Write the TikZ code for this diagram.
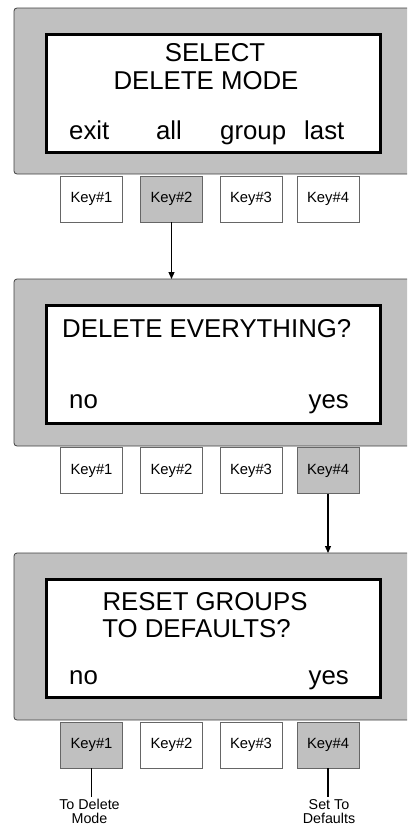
\documentclass[tikz,border=0pt]{standalone}
\usepackage{fontspec}
\setmainfont{Liberation Sans}
\usetikzlibrary{arrows.meta}
\definecolor{panelgray}{HTML}{C0C0C0}
\begin{document}
\begin{tikzpicture}[x=1pt,y=-1pt,
 panel/.style={draw=black!75, fill=panelgray, line width=0.8pt, rounded corners=3pt, anchor=north west, outer sep=0pt, inner sep=0pt, minimum width=420pt, minimum height=166pt},
 screen/.style={draw=black, fill=white, line width=3pt, anchor=north west, outer sep=0pt, inner sep=0pt, minimum width=334pt, minimum height=118pt},
 keybox/.style={draw=black!60, fill=white, line width=0.8pt, minimum width=62pt, minimum height=46pt, inner sep=0pt, outer sep=0pt, text height=10.5pt, text depth=3.5pt, font=\fontsize{14.8}{17}\selectfont},
 keyon/.style={keybox, fill=panelgray},
 big/.style={font=\fontsize{25.8}{30}\selectfont, inner sep=0pt},
 small/.style={font=\fontsize{14.3}{16}\selectfont, inner sep=0pt, anchor=base},
 flow/.style={line width=1.2pt, -{Triangle[width=6pt,length=7pt]}},
 lead/.style={line width=1.3pt}]
\useasboundingbox (0,0) rectangle (407,827);
\clip (0,0) rectangle (407,827);

% ---------- Panel 1 ----------
\node[panel] (p1) at (14,8) {};
\node[screen] (s1) at (46.5,34.5) {};
\node[big, anchor=base] (t1a) at (215,61) {SELECT};
\node[big, anchor=base] (t1b) at (206,89) {DELETE MODE};
\node[big, anchor=base west] (t1c) at (69,139) {exit};
\node[big, anchor=base] (t1d) at (169,139) {all};
\node[big, anchor=base west] (t1e) at (220,139) {group};
\node[big, anchor=base west] (t1f) at (304,139) {last};
\node[keybox] (k11) at (91.5,199) {Key\#1};
\node[keyon]  (k12) at (171.5,199) {Key\#2};
\node[keybox] (k13) at (251,199) {Key\#3};
\node[keybox] (k14) at (328,199) {Key\#4};

% ---------- Panel 2 ----------
\node[panel, minimum height=167pt] (p2) at (14,279) {};
\node[screen] (s2) at (46.5,305.5) {};
\node[big, anchor=base west] (t2a) at (62,337) {DELETE EVERYTHING?};
\node[big, anchor=base west] (t2b) at (69,408) {no};
\node[big, anchor=base east] (t2c) at (349,408) {yes};
\node[keybox] (k21) at (91.5,470.5) {Key\#1};
\node[keybox] (k22) at (171.5,470.5) {Key\#2};
\node[keybox] (k23) at (251,470.5) {Key\#3};
\node[keyon]  (k24) at (328,470.5) {Key\#4};

% ---------- Panel 3 ----------
\node[panel, minimum height=167pt] (p3) at (14,553) {};
\node[screen] (s3) at (46.5,579.5) {};
\node[big, anchor=base] (t3a) at (205,610) {RESET GROUPS};
\node[big, anchor=base] (t3b) at (196.5,637) {TO DEFAULTS?};
\node[big, anchor=base west] (t3c) at (69,684) {no};
\node[big, anchor=base east] (t3d) at (349,684) {yes};
\node[keyon]  (k31) at (91.5,745) {Key\#1};
\node[keybox] (k32) at (171.5,745) {Key\#2};
\node[keybox] (k33) at (251,745) {Key\#3};
\node[keyon]  (k34) at (328,745) {Key\#4};

% ---------- connectors ----------
\draw[flow] (k12.south) -- (k12.south |- p2.north);
\draw[flow] (k24.south) -- (k24.south |- p3.north);
\coordinate (e1) at (91.5,797);
\coordinate (e4) at (328,797);
\draw[lead] (k31.south) -- (e1);
\draw[lead] (k34.south) -- (e4);

\node[small] (l1a) at (89.5,809) {To Delete};
\node[small] (l1b) at (89.5,823) {Mode};
\node[small] (l4a) at (329,809) {Set To};
\node[small] (l4b) at (329,823) {Defaults};
\end{tikzpicture}
\end{document}
